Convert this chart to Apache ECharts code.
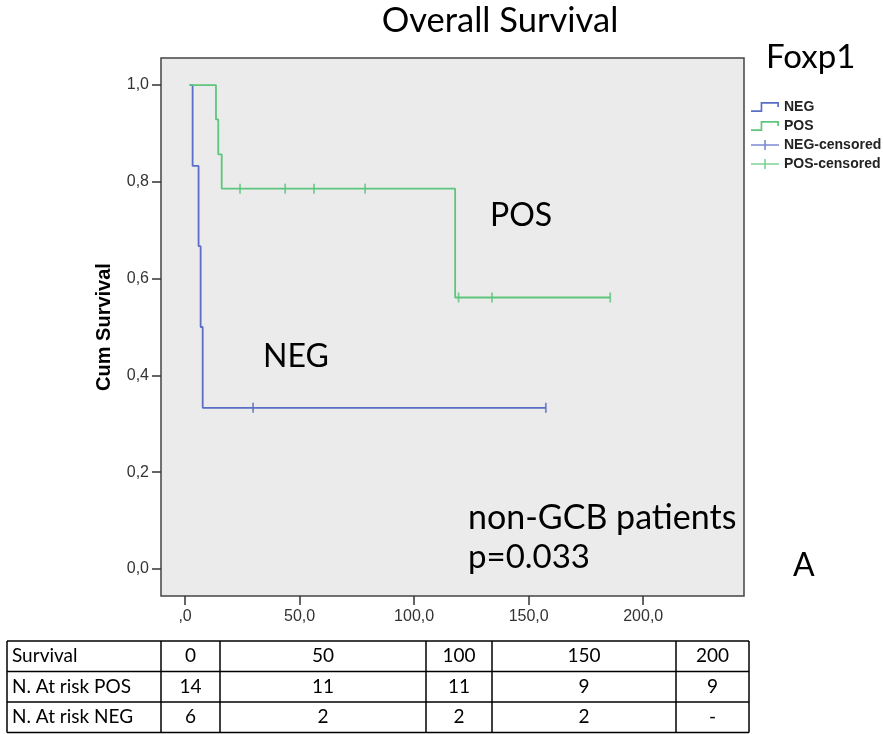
<!DOCTYPE html>
<html>
<head>
<meta charset="utf-8">
<script src="https://cdn.jsdelivr.net/npm/echarts@6/dist/echarts.min.js"></script>
<style>html,body{margin:0;padding:0;background:#fff;}#c{width:883px;height:734px;}</style>
</head>
<body>
<div id="c"></div>
<script>
// ---- data ----
const xTicks = [0, 50, 100, 150, 200];
const yTicks = [0, 0.2, 0.4, 0.6, 0.8, 1.0];
const negTimes = [2, 3.3, 5.9, 6.8, 7.7, 157.5];
const negSurv = [1, 0.833, 0.667, 0.5, 0.333, 0.333];
const negCensorTimes = [29.7, 157.5];
const negCensorSurv = [0.333, 0.333];
const posTimes = [2, 13.5, 14.5, 16, 117.9, 185.6];
const posSurv = [1, 0.929, 0.857, 0.786, 0.561, 0.561];
const posCensorTimes = [24, 43.7, 56.3, 78.6, 119.4, 134, 185.6];
const posCensorSurv = [0.786, 0.786, 0.786, 0.786, 0.561, 0.561, 0.561];
const tableRowLabels = ['Survival', 'N. At risk POS', 'N. At risk NEG'];
const tableTimes = ['0', '50', '100', '150', '200'];
const atRiskPOS = ['14', '11', '11', '9', '9'];
const atRiskNEG = ['6', '2', '2', '2', '-'];

const BLUE = '#5a6ec6';
const GREEN = '#5cc67c';
const zip = (a, b) => a.map((v, i) => [v, b[i]]);
const fmtX = v => (v === 0 ? ',0' : v.toFixed(1).replace('.', ','));
const fmtY = v => v.toFixed(1).replace('.', ',');

// ---- table graphics ----
const colEdges = [7, 161, 220, 426, 492, 676, 749];
const rowEdges = [641, 671.5, 702, 732.5];
const tableRows = [[tableRowLabels[0]].concat(tableTimes), [tableRowLabels[1]].concat(atRiskPOS), [tableRowLabels[2]].concat(atRiskNEG)];
const graphics = [];
rowEdges.forEach(y => graphics.push({type:'line', shape:{x1:colEdges[0], y1:y, x2:colEdges[colEdges.length-1], y2:y}, style:{stroke:'#000', lineWidth:1.5}}));
colEdges.forEach(x => graphics.push({type:'line', shape:{x1:x, y1:rowEdges[0], x2:x, y2:rowEdges[rowEdges.length-1]}, style:{stroke:'#000', lineWidth:1.5}}));
tableRows.forEach((row, r) => {
  const yc = (rowEdges[r] + rowEdges[r+1]) / 2;
  row.forEach((txt, c) => {
    const left = c === 0;
    graphics.push({type:'text', x: left ? colEdges[0] + 5 : (colEdges[c] + colEdges[c+1]) / 2, y: yc,
      style:{text: txt, font:'19px Lato', fill:'#000', align: left ? 'left' : 'center', verticalAlign:'middle'}});
  });
});
const ann = (text, x, y, size, align) => ({type:'text', x, y, style:{text, font: size + 'px Lato', fill:'#000', align: align || 'left', verticalAlign:'middle'}});
graphics.push(ann('Overall Survival', 500, 21, 34.5, 'center'));
graphics.push(ann('Foxp1', 766, 57, 33));
graphics.push(ann('POS', 490, 216, 32));
graphics.push(ann('NEG', 263, 357, 32));
graphics.push(ann('non-GCB patients', 468, 518, 34));
graphics.push(ann('p=0.033', 468, 557, 33));
graphics.push(ann('A', 793, 566, 32));

const stepIcon = 'path://M0,8.2 L9.2,8.2 L9.2,0.2 L26.8,0.2 L26.8,5 L25.2,5 L25.2,1.8 L10.8,1.8 L10.8,9.8 L0,9.8 Z';
const plusIcon = 'path://M0,4.2 L13.2,4.2 L13.2,0 L14.8,0 L14.8,4.2 L28,4.2 L28,5.8 L14.8,5.8 L14.8,10 L13.2,10 L13.2,5.8 L0,5.8 Z';

const chart = echarts.init(document.getElementById('c'));
chart.setOption({
  animation: false,
  backgroundColor: '#fff',
  grid: {left: 161, right: 139, top: 58, bottom: 138, show: true, backgroundColor: '#ebebeb', borderColor: '#444', borderWidth: 1.5},
  legend: {
    orient: 'vertical', left: 746, top: 95, itemWidth: 28, itemHeight: 10, itemGap: 5,
    textStyle: {fontFamily: 'Liberation Sans', fontSize: 14, fontWeight: 'bold', color: '#222'},
    data: [
      {name: 'NEG', icon: stepIcon},
      {name: 'POS', icon: stepIcon},
      {name: 'NEG-censored', icon: plusIcon},
      {name: 'POS-censored', icon: plusIcon}
    ]
  },
  xAxis: {
    type: 'value', min: -10.5, max: 244,
    axisLine: {show: false, onZero: false}, splitLine: {show: false},
    axisTick: {show: true, length: 9, customValues: xTicks, lineStyle: {color: '#333', width: 1.5}},
    axisLabel: {customValues: xTicks, formatter: fmtX, margin: 13, fontFamily: 'Liberation Sans', fontSize: 16, color: '#333'}
  },
  yAxis: {
    type: 'value', min: -0.056, max: 1.056,
    name: 'Cum Survival', nameLocation: 'middle', nameGap: 47,
    nameTextStyle: {fontFamily: 'Liberation Sans', fontSize: 20, fontWeight: 'bold', color: '#000'},
    axisLine: {show: false, onZero: false}, splitLine: {show: false},
    axisTick: {show: true, length: 9, customValues: yTicks, lineStyle: {color: '#333', width: 1.5}},
    axisLabel: {customValues: yTicks, formatter: fmtY, margin: 12, fontFamily: 'Liberation Sans', fontSize: 16, color: '#333'}
  },
  series: [
    {name: 'NEG', type: 'line', step: 'end', data: zip(negTimes, negSurv), showSymbol: false, symbol: 'none', color: BLUE, lineStyle: {width: 1.8, color: BLUE}},
    {name: 'POS', type: 'line', step: 'end', data: zip(posTimes, posSurv), showSymbol: false, symbol: 'none', color: GREEN, lineStyle: {width: 1.8, color: GREEN}},
    {name: 'NEG-censored', type: 'scatter', data: zip(negCensorTimes, negCensorSurv), symbol: 'rect', symbolSize: [1.8, 10], color: BLUE, itemStyle: {color: BLUE}},
    {name: 'POS-censored', type: 'scatter', data: zip(posCensorTimes, posCensorSurv), symbol: 'rect', symbolSize: [1.8, 10], color: GREEN, itemStyle: {color: GREEN}}
  ],
  graphic: graphics
});
</script>
</body>
</html>
